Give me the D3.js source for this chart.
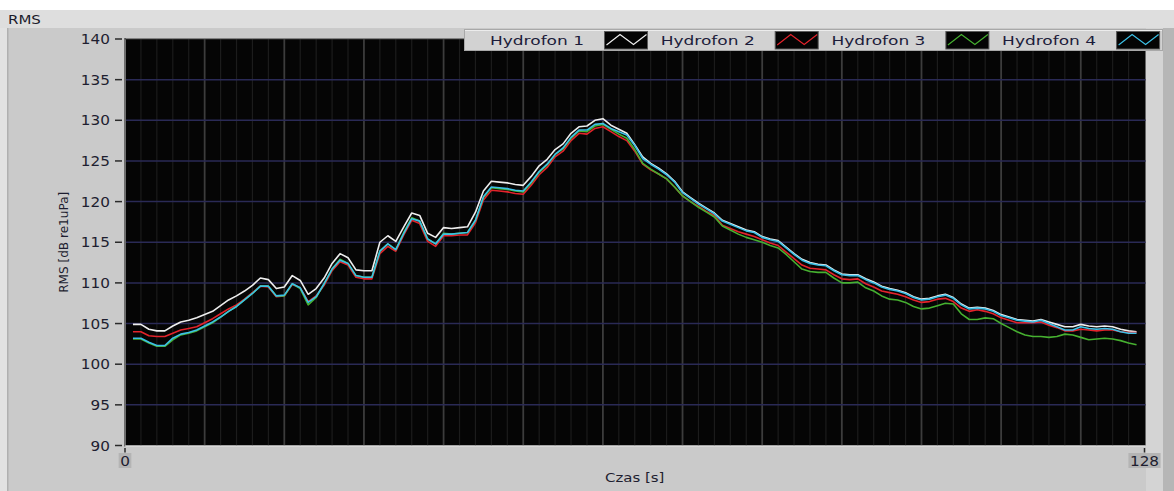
<!DOCTYPE html>
<html>
<head>
<meta charset="utf-8">
<script src="https://cdn.jsdelivr.net/npm/d3@7"></script>
<style>
  html, body { margin: 0; padding: 0; background: #ffffff; }
  svg { display: block; font-family: "DejaVu Sans", sans-serif; }
</style>
</head>
<body>
<svg id="chart" width="1174" height="491"></svg>
<script>
// RMS level per hydrophone, one sample per second (t = 1 … 127 s)
const seriesNames = ["Hydrofon 1", "Hydrofon 2", "Hydrofon 3", "Hydrofon 4"];
const seriesColors = ["#eeeeee", "#e3232b", "#46b030", "#3cc0e6"];

const hydrofon1 = [
  104.9,104.9,104.3,104.1,104.1,104.7,105.2,105.4,105.7,106.1,
  106.5,107.2,107.9,108.4,109.0,109.7,110.6,110.4,109.3,109.5,
  110.9,110.3,108.6,109.3,110.6,112.4,113.6,113.1,111.6,111.5,
  111.5,115.0,115.8,115.1,116.9,118.6,118.3,116.1,115.6,116.8,
  116.7,116.8,116.9,118.7,121.3,122.5,122.4,122.3,122.1,122.0,
  123.1,124.4,125.2,126.4,127.1,128.4,129.2,129.3,130.0,130.2,
  129.4,128.9,128.4,127.0,125.5,124.7,124.1,123.4,122.5,121.2,
  120.5,119.8,119.2,118.6,117.7,117.3,116.9,116.5,116.3,115.7,
  115.4,115.2,114.4,113.6,112.9,112.5,112.3,112.2,111.6,111.1,
  111.0,111.0,110.5,110.1,109.6,109.3,109.1,108.8,108.3,108.0,
  108.1,108.4,108.6,108.2,107.4,106.9,107.0,106.9,106.6,106.1,
  105.8,105.5,105.4,105.3,105.5,105.2,104.9,104.6,104.6,104.9,
  104.7,104.6,104.7,104.6,104.3,104.1,104.0
];
const hydrofon2 = [
  104.0,104.0,103.5,103.4,103.4,103.8,104.2,104.4,104.6,105.1,
  105.6,106.2,106.8,107.3,108.0,108.8,109.6,109.5,108.3,108.4,
  109.8,109.4,107.7,108.4,109.7,111.5,112.6,112.2,110.7,110.5,
  110.5,113.6,114.5,113.9,115.9,117.7,117.3,115.1,114.5,115.8,
  115.8,115.9,115.9,117.4,120.2,121.4,121.3,121.2,121.0,120.9,
  122.0,123.3,124.2,125.5,126.2,127.5,128.4,128.3,129.0,129.2,
  128.6,128.0,127.5,126.2,124.6,123.9,123.4,122.8,121.8,120.7,
  120.0,119.4,118.8,118.3,117.1,116.7,116.3,116.0,115.7,115.3,
  114.9,114.6,113.8,113.0,112.2,111.8,111.7,111.6,111.0,110.5,
  110.4,110.5,109.9,109.5,109.0,108.8,108.6,108.3,107.9,107.6,
  107.7,108.0,108.1,107.7,106.9,106.5,106.7,106.5,106.2,105.7,
  105.4,105.1,105.1,105.1,105.2,104.8,104.5,104.1,104.1,104.3,
  104.2,104.1,104.2,104.2,104.0,103.9,103.9
];
const hydrofon3 = [
  103.1,103.1,102.6,102.2,102.2,103.0,103.6,103.8,104.1,104.6,
  105.1,105.8,106.5,107.1,107.9,108.7,109.6,109.6,108.4,108.4,
  109.9,109.3,107.3,108.2,109.9,111.7,112.9,112.4,110.9,110.7,
  110.7,113.9,114.8,114.1,116.2,118.0,117.6,115.4,114.8,116.1,
  116.0,116.1,116.2,117.7,120.5,121.7,121.6,121.5,121.3,121.2,
  122.3,123.6,124.5,125.8,126.5,127.8,128.7,128.6,129.3,129.5,
  128.9,128.3,127.8,126.4,124.7,124.0,123.4,122.8,121.8,120.7,
  120.0,119.3,118.7,118.1,117.0,116.5,116.0,115.6,115.3,115.0,
  114.6,114.3,113.5,112.6,111.7,111.4,111.3,111.3,110.6,110.0,
  110.0,110.1,109.4,109.0,108.4,108.0,107.9,107.6,107.1,106.8,
  106.9,107.2,107.5,107.4,106.2,105.5,105.5,105.7,105.6,105.0,
  104.5,104.0,103.6,103.4,103.4,103.3,103.4,103.7,103.6,103.3,
  103.0,103.1,103.2,103.1,102.9,102.6,102.4
];
const hydrofon4 = [
  103.2,103.2,102.7,102.3,102.3,103.2,103.7,103.9,104.2,104.7,
  105.2,105.8,106.5,107.1,107.9,108.7,109.6,109.6,108.4,108.5,
  109.9,109.4,107.6,108.3,109.9,111.7,112.8,112.4,110.9,110.7,
  110.7,113.9,114.8,114.1,116.1,117.9,117.6,115.4,114.8,116.0,
  116.0,116.1,116.2,117.7,120.6,121.8,121.7,121.6,121.4,121.3,
  122.4,123.7,124.6,125.8,126.6,127.9,128.8,128.8,129.5,129.6,
  129.0,128.6,128.2,126.9,125.3,124.6,124.0,123.3,122.4,121.1,
  120.4,119.7,119.1,118.5,117.6,117.2,116.8,116.4,116.2,115.6,
  115.3,115.1,114.3,113.5,112.8,112.4,112.2,112.1,111.5,111.0,
  110.9,110.9,110.4,110.0,109.5,109.2,109.0,108.7,108.2,107.9,
  108.0,108.3,108.5,108.1,107.3,106.8,106.9,106.8,106.5,106.0,
  105.7,105.4,105.3,105.2,105.4,105.0,104.6,104.2,104.2,104.6,
  104.4,104.3,104.4,104.3,104.0,103.8,103.8
];
const seriesValues = [hydrofon1, hydrofon2, hydrofon3, hydrofon4];
const times = d3.range(1, hydrofon1.length + 1);

const yTicks = [90, 95, 100, 105, 110, 115, 120, 125, 130, 135, 140];
const xTickLabels = [0, 128];
const xDomain = [0, 128];
const yDomain = [90, 140];

const svg = d3.select("#chart");
const W = 1174, H = 491;
const plot = { left: 125, right: 1144.5, top: 39, bottom: 445.5 };

const x = d3.scaleLinear().domain(xDomain).range([plot.left, plot.right]);
const y = d3.scaleLinear().domain(yDomain).range([plot.bottom, plot.top]);

// stretch text horizontally to the wide face used on the panel
function stretch(sel, factor) {
  sel.each(function () {
    const w = this.getComputedTextLength();
    d3.select(this).attr("textLength", w * factor).attr("lengthAdjust", "spacingAndGlyphs");
  });
}

// ---- window frame ----
svg.append("rect").attr("x", 0).attr("y", 0).attr("width", W).attr("height", H).attr("fill", "#ffffff");
svg.append("rect").attr("x", 0).attr("y", 10).attr("width", W).attr("height", 18).attr("fill", "#dedede");
svg.append("rect").attr("x", 0).attr("y", 28).attr("width", 7).attr("height", H - 28).attr("fill", "#e2e2e2");
svg.append("rect").attr("x", 7).attr("y", 28).attr("width", 1156).attr("height", H - 28).attr("fill", "#cacaca");
svg.append("rect").attr("x", 7).attr("y", 28).attr("width", 1.5).attr("height", H - 28).attr("fill", "#b0b0b0");
svg.append("rect").attr("x", 1146).attr("y", 28).attr("width", 17).attr("height", H - 28).attr("fill", "#d4d4d4");
svg.append("rect").attr("x", 1163).attr("y", 28).attr("width", 11).attr("height", H - 28).attr("fill", "#b6b6b6");

svg.append("text").attr("x", 8).attr("y", 24)
  .attr("font-size", 12.5).attr("fill", "#1a1a2a").text("RMS")
  .call(stretch, 1.2);

// ---- plot background and grid ----
svg.append("rect")
  .attr("x", plot.left).attr("y", plot.top)
  .attr("width", plot.right - plot.left + 1).attr("height", plot.bottom - plot.top)
  .attr("fill", "#050505");

const minorX = d3.range(2, 128, 2).filter(d => d % 10 !== 0);
const majorX = d3.range(10, 128, 10);
const grid = svg.append("g");
grid.selectAll("line.minor").data(minorX).join("line")
  .attr("x1", d => x(d)).attr("x2", d => x(d))
  .attr("y1", plot.top).attr("y2", plot.bottom)
  .attr("stroke", "#1c1c1c").attr("stroke-width", 1.2);
grid.selectAll("line.major").data(majorX).join("line")
  .attr("x1", d => x(d)).attr("x2", d => x(d))
  .attr("y1", plot.top).attr("y2", plot.bottom)
  .attr("stroke", "#3c3c3c").attr("stroke-width", 1.8);
grid.selectAll("line.h").data(yTicks.filter(d => d > yDomain[0] && d < yDomain[1])).join("line")
  .attr("x1", plot.left).attr("x2", plot.right + 1)
  .attr("y1", d => y(d)).attr("y2", d => y(d))
  .attr("stroke", "#2a2a56").attr("stroke-width", 1.5);

// plot frame
svg.append("line").attr("x1", plot.left).attr("x2", plot.left)
  .attr("y1", plot.top - 1).attr("y2", plot.bottom + 1)
  .attr("stroke", "#6e6e6e").attr("stroke-width", 2);
svg.append("line").attr("x1", plot.left).attr("x2", plot.right + 1)
  .attr("y1", plot.top).attr("y2", plot.top)
  .attr("stroke", "#3a3a3a").attr("stroke-width", 1);
svg.append("line").attr("x1", plot.left).attr("x2", plot.right + 1)
  .attr("y1", plot.bottom + 0.5).attr("y2", plot.bottom + 0.5)
  .attr("stroke", "#e6e6e6").attr("stroke-width", 1);

// ---- series ----
const line = d3.line().x((d, i) => x(times[i])).y(d => y(d));
svg.append("g").selectAll("path").data(seriesValues).join("path")
  .attr("d", d => line(d))
  .attr("fill", "none")
  .attr("stroke", (d, i) => seriesColors[i])
  .attr("stroke-width", 1.6)
  .attr("stroke-linejoin", "round");

// ---- y axis ----
const yAxis = svg.append("g");
yAxis.selectAll("line").data(yTicks).join("line")
  .attr("x1", plot.left - 10).attr("x2", plot.left - 3)
  .attr("y1", d => y(d)).attr("y2", d => y(d))
  .attr("stroke", "#2a2a2a").attr("stroke-width", 1.5);
yAxis.selectAll("text").data(yTicks).join("text")
  .attr("x", plot.left - 15).attr("y", d => y(d) + 5)
  .attr("text-anchor", "end").attr("font-size", 13.5).attr("fill", "#1e1e30")
  .text(d => d)
  .call(stretch, 1.13);

svg.append("text")
  .attr("transform", `translate(68,${(plot.top + plot.bottom) / 2}) rotate(-90)`)
  .attr("text-anchor", "middle").attr("font-size", 11.5).attr("fill", "#1e1e30")
  .text("RMS [dB re1uPa]")
  .call(stretch, 1.05);

// ---- x axis ----
const xAxis = svg.append("g");
xAxis.selectAll("line").data(xTickLabels).join("line")
  .attr("x1", d => x(d)).attr("x2", d => x(d))
  .attr("y1", plot.bottom + 2.5).attr("y2", plot.bottom + 7)
  .attr("stroke", "#2a2a2a").attr("stroke-width", 1.5);
const xl = xAxis.selectAll("g.lab").data(xTickLabels).join("g");
xl.append("text")
  .attr("x", d => x(d)).attr("y", plot.bottom + 20)
  .attr("text-anchor", "middle").attr("font-size", 13.5).attr("fill", "#1e1e30")
  .text(d => d)
  .call(stretch, 1.13);
xl.each(function () {
  const g = d3.select(this);
  const bb = g.select("text").node().getBBox();
  g.insert("rect", "text")
    .attr("x", bb.x - 1.5).attr("y", plot.bottom + 7.5)
    .attr("width", bb.width + 3).attr("height", 15)
    .attr("fill", "#b4b4b4");
});

svg.append("text")
  .attr("x", (plot.left + plot.right) / 2).attr("y", 482)
  .attr("text-anchor", "middle").attr("font-size", 13).attr("fill", "#1e1e30")
  .text("Czas [s]")
  .call(stretch, 1.15);

// ---- legend ----
const legend = svg.append("g");
legend.append("rect")
  .attr("x", 464.5).attr("y", 29.5).attr("width", 698).attr("height", 21)
  .attr("fill", "#d2d2d2").attr("stroke", "#a8a8a8");
legend.append("line").attr("x1", 465).attr("x2", 1162).attr("y1", 30.5).attr("y2", 30.5)
  .attr("stroke", "#ececec");
const entryStep = 170.7;
const entries = legend.selectAll("g.entry").data(seriesNames).join("g")
  .attr("transform", (d, i) => `translate(${490 + i * entryStep},0)`);
entries.append("text")
  .attr("x", 0).attr("y", 45).attr("font-size", 13).attr("fill", "#1c1c3a")
  .text(d => d)
  .attr("textLength", 94).attr("lengthAdjust", "spacingAndGlyphs");
entries.append("rect")
  .attr("x", 114.5).attr("y", 31.5).attr("width", 43).attr("height", 17.5)
  .attr("fill", "#040404").attr("stroke", "#5a5a5a");
const swatchZig = [[116.5, 45], [130, 34.5], [143.5, 44.5], [156.5, 34.5]];
entries.append("path")
  .attr("d", d3.line()(swatchZig))
  .attr("fill", "none")
  .attr("stroke", (d, i) => seriesColors[i])
  .attr("stroke-width", 1.2);
</script>
</body>
</html>
